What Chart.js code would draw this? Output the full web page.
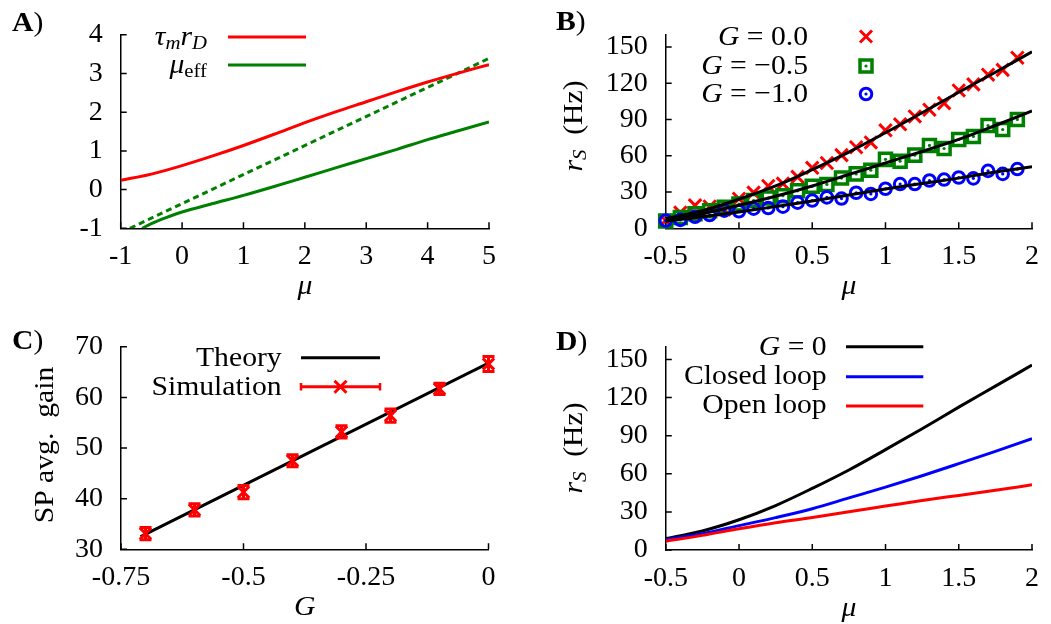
<!DOCTYPE html>
<html lang="en">
<head>
  <meta charset="UTF-8" />
  <title>Firing-rate response panels</title>
  <script src="https://cdn.jsdelivr.net/npm/chart.js"></script>
  <style>
    body { margin: 0; background: #fff; }
    #fig { position: relative; width: 1051px; height: 624px; }
    canvas { position: absolute; }
  </style>
</head>
<body>
  <div id="fig">
    <canvas id="chartA" width="525" height="312" style="left:0;top:0"></canvas>
    <canvas id="chartB" width="526" height="312" style="left:525px;top:0"></canvas>
    <canvas id="chartC" width="525" height="312" style="left:0;top:312px"></canvas>
    <canvas id="chartD" width="526" height="312" style="left:525px;top:312px"></canvas>
  </div>

  <script>
    const SERIF = '"Liberation Serif", "Times New Roman", serif';
    const FS = 28;
    const STRETCH = 1.06;
    const RED = '#ff0000', GREEN = '#008000', BLUE = '#0000ff', BLACK = '#000000';

    // A) tau_m r_D and mu_eff against mu
    const muA = [-1, -0.5, 0, 0.5, 1, 1.5, 2, 2.5, 3, 3.5, 4, 4.5, 5];
    const tauRD = [0.24, 0.40, 0.62, 0.87, 1.14, 1.43, 1.73, 2.01, 2.27, 2.53, 2.78, 3.01, 3.23];
    const muEffX = [-0.65, -0.5, -0.25, 0, 0.5, 1, 1.5, 2, 2.5, 3, 3.5, 4, 4.5, 5];
    const muEff = [-1, -0.88, -0.72, -0.58, -0.36, -0.15, 0.08, 0.32, 0.56, 0.80, 1.04, 1.29, 1.52, 1.75];
    const muLinX = [-0.85, 5];
    const muLin = [-1, 3.39];
    const xTicksA = [-1, 0, 1, 2, 3, 4, 5];
    const yTicksA = [-1, 0, 1, 2, 3, 4];

    // B) simulated rates for three gains, with theory curves
    const muSim = [-0.5, -0.4, -0.3, -0.2, -0.1, 0, 0.1, 0.2, 0.3, 0.4, 0.5, 0.6, 0.7,
                   0.8, 0.9, 1.0, 1.1, 1.2, 1.3, 1.4, 1.5, 1.6, 1.7, 1.8, 1.9];
    const simG0 = [6.5, 13, 19, 18, 15.5, 24.5, 29.5, 35, 37, 42.5, 50, 54, 60.5,
                   67, 71, 81, 86, 92.5, 98, 103.5, 114, 119, 127, 131, 141];
    const simG05 = [6, 9, 12, 14.5, 17.5, 20, 23, 25, 27, 31, 34.7, 36.3, 41.5,
                    45, 48, 57, 55.5, 60.5, 68.5, 66, 73.5, 76, 85, 81.7, 90];
    const simG10 = [6.4, 7, 9.5, 11, 14.6, 14.1, 16.2, 16.8, 17.9, 21.2, 23, 25.6, 24.6,
                    29.4, 28.4, 32.7, 36.6, 36.6, 39.5, 40.3, 42, 41.3, 47.5, 45, 49];
    const muTh = [-0.5, -0.25, 0, 0.25, 0.5, 0.75, 1, 1.25, 1.5, 1.75, 2];
    const thG0 = [8, 14.5, 24, 35, 48.5, 63, 79, 95.5, 112.5, 129, 146];
    const thG05 = [6, 12, 19, 26.5, 35, 44.5, 54, 63.5, 73.5, 85, 97];
    const thG10 = [6, 9.5, 13.5, 18, 22.5, 27.5, 32.5, 37, 41.5, 46.5, 51];
    const xTicksMu = [-0.5, 0, 0.5, 1, 1.5, 2];
    const yTicksRate = [0, 30, 60, 90, 120, 150];

    // C) average gain vs G
    const gSim = [-0.7, -0.6, -0.5, -0.4, -0.3, -0.2, -0.1, 0];
    const gainSim = [33.1, 37.8, 41.3, 47.5, 53.2, 56.4, 61.7, 66.6];
    const gainErr = [1.2, 1.2, 1.3, 1.2, 1.2, 1.3, 1.1, 1.5];
    const gTheory = [-0.71, 0];
    const gainTheory = [32.5, 66.8];
    const xTicksC = [-0.75, -0.5, -0.25, 0];
    const yTicksC = [30, 40, 50, 60, 70];

    // D) rate curves: G = 0, closed loop, open loop
    const muD = [-0.5, -0.25, 0, 0.25, 0.5, 0.75, 1, 1.25, 1.5, 1.75, 2];
    const rateG0 = [9, 15, 23.8, 35, 48.5, 63, 79, 95.5, 112.5, 129, 145.6];
    const rateClosed = [8.2, 12.8, 19.2, 25.5, 32.5, 41, 49.5, 58.5, 68, 77.7, 87.7];
    const rateOpen = [6.9, 11.5, 16.7, 21.5, 25.6, 30.2, 34.6, 39, 43, 47, 51.3];

    Chart.defaults.font.family = SERIF;
    Chart.defaults.font.size = FS;
    Chart.defaults.color = '#000';

    function pts(xs, ys) {
      return xs.map((x, i) => ({ x: x, y: ys[i] }));
    }

    function curve(xs, ys, color, extra) {
      return Object.assign({
        data: pts(xs, ys), showLine: true, borderColor: color, borderWidth: 3,
        pointRadius: 0, fill: false, cubicInterpolationMode: 'monotone'
      }, extra || {});
    }

    function markers(xs, ys, color, style, radius, width, order) {
      return {
        data: pts(xs, ys), showLine: false, pointStyle: style, pointRadius: radius,
        borderColor: color, borderWidth: width, backgroundColor: 'rgba(0,0,0,0)',
        clip: false, order: order
      };
    }

    function dots(xs, ys, color, order) {
      return {
        data: pts(xs, ys), showLine: false, pointStyle: 'circle', pointRadius: 1.6,
        borderWidth: 0, backgroundColor: color, clip: false, order: order
      };
    }

    // mixed-style text: [text, style], style letters i = italic, b = bold, s = subscript
    function setFont(ctx, st) {
      const size = st.includes('s') ? FS * 0.7 : FS;
      ctx.font = (st.includes('i') ? 'italic ' : '') + (st.includes('b') ? 'bold ' : '') + size + 'px ' + SERIF;
    }

    function drawRich(ctx, parts, x, y, align, rotate) {
      ctx.save();
      ctx.translate(x, y);
      if (rotate) ctx.rotate(-Math.PI / 2);
      ctx.scale(STRETCH, 1);
      let w = 0;
      parts.forEach(p => { setFont(ctx, p[1]); w += ctx.measureText(p[0]).width; });
      let cx = align === 'right' ? -w : (align === 'center' ? -w / 2 : 0);
      ctx.fillStyle = '#000';
      ctx.textAlign = 'left';
      ctx.textBaseline = 'alphabetic';
      parts.forEach(p => {
        setFont(ctx, p[1]);
        ctx.fillText(p[0], cx, p[1].includes('s') ? 4 : 0);
        cx += ctx.measureText(p[0]).width;
      });
      ctx.restore();
    }

    function keyLine(ctx, x1, x2, y, color) {
      ctx.save();
      ctx.strokeStyle = color;
      ctx.lineWidth = 3;
      ctx.beginPath();
      ctx.moveTo(x1, y);
      ctx.lineTo(x2, y);
      ctx.stroke();
      ctx.restore();
    }

    function drawMarker(ctx, kind, x, y, color) {
      ctx.save();
      ctx.strokeStyle = color;
      ctx.fillStyle = color;
      ctx.beginPath();
      if (kind === 'cross') {
        ctx.lineWidth = 3;
        ctx.moveTo(x - 6, y - 6); ctx.lineTo(x + 6, y + 6);
        ctx.moveTo(x - 6, y + 6); ctx.lineTo(x + 6, y - 6);
        ctx.stroke();
      } else {
        ctx.lineWidth = kind === 'square' ? 3.5 : 3;
        if (kind === 'square') ctx.rect(x - 6, y - 6, 12, 12);
        else ctx.arc(x, y, 5.8, 0, Math.PI * 2);
        ctx.stroke();
        ctx.beginPath();
        ctx.arc(x, y, 1.6, 0, Math.PI * 2);
        ctx.fill();
      }
      ctx.restore();
    }

    // short tick marks pointing into the plot
    const innerTicks = {
      id: 'innerTicks',
      beforeDatasetsDraw(chart) {
        const { ctx, chartArea: a, scales: { x, y } } = chart;
        ctx.save();
        ctx.strokeStyle = '#000';
        ctx.lineWidth = 1.5;
        ctx.beginPath();
        x.ticks.forEach(t => {
          const px = x.getPixelForValue(t.value);
          ctx.moveTo(px, a.bottom); ctx.lineTo(px, a.bottom - 6);
        });
        y.ticks.forEach(t => {
          const py = y.getPixelForValue(t.value);
          ctx.moveTo(a.left, py); ctx.lineTo(a.left + 6, py);
        });
        ctx.stroke();
        ctx.restore();
      }
    };

    function makePanel(id, cfg) {
      const canvas = document.getElementById(id);
      const W = canvas.width, H = canvas.height;
      const [L, T, R, B] = cfg.area;
      const axis = (range, ticks, pad, fit) => ({
        type: 'linear', min: range[0], max: range[1],
        afterFit: fit,
        afterBuildTicks: s => { s.ticks = ticks.map(v => ({ value: v })); },
        ticks: { padding: pad, color: '#000', autoSkip: false, maxRotation: 0,
                 font: { family: SERIF, size: FS }, callback: v => String(v) },
        grid: { drawOnChartArea: false, drawTicks: false },
        border: { color: '#000', width: 1.5 }
      });
      return new Chart(canvas, {
        type: 'scatter',
        data: { datasets: cfg.datasets },
        options: {
          responsive: false,
          animation: false,
          events: [],
          layout: { padding: { left: 0, top: T, right: W - R, bottom: 0 } },
          plugins: { legend: { display: false }, tooltip: { enabled: false } },
          scales: {
            x: axis(cfg.xRange, cfg.xTicks, 12, s => { s.height = H - B; }),
            y: axis(cfg.yRange, cfg.yTicks, 18, s => { s.width = L; })
          }
        },
        plugins: [innerTicks, { id: 'decor', afterDraw: c => cfg.decorate(c.ctx, c.chartArea) }]
          .concat(cfg.plugins || [])
      });
    }

    // A
    makePanel('chartA', {
      area: [120.7, 21.7, 489, 228.3],
      xRange: [-1, 5], yRange: [-1, 4], xTicks: xTicksA, yTicks: yTicksA,
      datasets: [
        curve(muA, tauRD, RED),
        curve(muEffX, muEff, GREEN),
        curve(muLinX, muLin, GREEN, { borderDash: [6, 4], cubicInterpolationMode: 'default' })
      ],
      decorate(ctx, a) {
        drawRich(ctx, [['A', 'b'], [')', '']], 12, 31, 'left');
        drawRich(ctx, [['μ', 'i']], (a.left + a.right) / 2, a.bottom + 66, 'center');
        drawRich(ctx, [['τ', 'i'], ['m', 'is'], ['r', 'i'], ['D', 'is']], 207, 45, 'right');
        keyLine(ctx, 228, 306, 37, RED);
        drawRich(ctx, [['μ', 'i'], ['eff', 's']], 207, 73, 'right');
        keyLine(ctx, 228, 306, 65, GREEN);
      }
    });

    // B
    makePanel('chartB', {
      area: [140.7, 21.3, 510.7, 228.3],
      xRange: [-0.5, 2], yRange: [0, 160], xTicks: xTicksMu, yTicks: yTicksRate,
      datasets: [
        curve(muTh, thG0, BLACK, { order: 0 }),
        curve(muTh, thG05, BLACK, { order: 0 }),
        curve(muTh, thG10, BLACK, { order: 0 }),
        dots(muSim, simG10, BLUE, 1),
        markers(muSim, simG10, BLUE, 'circle', 5.8, 3, 2),
        dots(muSim, simG05, GREEN, 3),
        markers(muSim, simG05, GREEN, 'rect', 8.5, 3.5, 4),
        markers(muSim, simG0, RED, 'crossRot', 8.8, 3, 5)
      ],
      decorate(ctx, a) {
        drawRich(ctx, [['B', 'b'], [')', '']], 31, 30, 'left');
        drawRich(ctx, [['μ', 'i']], (a.left + a.right) / 2, a.bottom + 66, 'center');
        drawRich(ctx, [['r', 'i'], ['S', 'is'], ['  (Hz)', '']], 56.7, 126, 'center', true);
        drawRich(ctx, [['G', 'i'], [' = 0.0', '']], 283, 44.5, 'right');
        drawRich(ctx, [['G', 'i'], [' = −0.5', '']], 283, 74, 'right');
        drawRich(ctx, [['G', 'i'], [' = −1.0', '']], 283, 102, 'right');
        drawMarker(ctx, 'cross', 341, 36.5, RED);
        drawMarker(ctx, 'square', 341, 66, GREEN);
        drawMarker(ctx, 'circle', 341, 94, BLUE);
      }
    });

    // vertical error bars with end caps for the simulated gains
    const errorBars = {
      id: 'errorBars',
      afterDatasetsDraw(chart) {
        const { ctx, scales: { x, y } } = chart;
        ctx.save();
        ctx.strokeStyle = RED;
        ctx.lineWidth = 3;
        gSim.forEach((g, i) => {
          const px = x.getPixelForValue(g);
          const lo = y.getPixelForValue(gainSim[i] - gainErr[i]);
          const hi = y.getPixelForValue(gainSim[i] + gainErr[i]);
          ctx.beginPath();
          ctx.moveTo(px, lo); ctx.lineTo(px, hi);
          ctx.moveTo(px - 6, lo); ctx.lineTo(px + 6, lo);
          ctx.moveTo(px - 6, hi); ctx.lineTo(px + 6, hi);
          ctx.stroke();
        });
        ctx.restore();
      }
    };

    // C
    makePanel('chartC', {
      area: [121, 31.3, 488.5, 237.3],
      xRange: [-0.75, 0], yRange: [30, 70], xTicks: xTicksC, yTicks: yTicksC,
      datasets: [
        markers(gSim, gainSim, RED, 'crossRot', 8, 3, 0),
        curve(gTheory, gainTheory, BLACK, { order: 1, cubicInterpolationMode: 'default' })
      ],
      plugins: [errorBars],
      decorate(ctx, a) {
        drawRich(ctx, [['C', 'b'], [')', '']], 12, 36.5, 'left');
        drawRich(ctx, [['G', 'i']], (a.left + a.right) / 2, a.bottom + 66, 'center');
        drawRich(ctx, [['SP avg.  gain', '']], 53, 133, 'center', true);
        drawRich(ctx, [['Theory', '']], 281.7, 53.5, 'right');
        keyLine(ctx, 301, 380, 45.7, BLACK);
        drawRich(ctx, [['Simulation', '']], 281.7, 82.5, 'right');
        keyLine(ctx, 301, 380, 74.7, RED);
        ctx.save();
        ctx.strokeStyle = RED;
        ctx.lineWidth = 2.5;
        ctx.beginPath();
        ctx.moveTo(301, 71); ctx.lineTo(301, 78.5);
        ctx.moveTo(380, 71); ctx.lineTo(380, 78.5);
        ctx.stroke();
        ctx.restore();
        drawMarker(ctx, 'cross', 340.5, 74.7, RED);
      }
    });

    // D
    makePanel('chartD', {
      area: [140.8, 30.3, 508.3, 238],
      xRange: [-0.5, 2], yRange: [0, 160], xTicks: xTicksMu, yTicks: yTicksRate,
      datasets: [
        curve(muD, rateOpen, RED, { order: 0 }),
        curve(muD, rateClosed, BLUE, { order: 1 }),
        curve(muD, rateG0, BLACK, { order: 2 })
      ],
      decorate(ctx, a) {
        drawRich(ctx, [['D', 'b'], [')', '']], 31, 38, 'left');
        drawRich(ctx, [['μ', 'i']], (a.left + a.right) / 2, a.bottom + 66, 'center');
        drawRich(ctx, [['r', 'i'], ['S', 'is'], ['  (Hz)', '']], 56.7, 136, 'center', true);
        drawRich(ctx, [['G', 'i'], [' = 0', '']], 301.7, 43, 'right');
        keyLine(ctx, 321, 398.3, 34.7, BLACK);
        drawRich(ctx, [['Closed loop', '']], 301.7, 71.5, 'right');
        keyLine(ctx, 321, 398.3, 64.7, BLUE);
        drawRich(ctx, [['Open loop', '']], 301.7, 100.7, 'right');
        keyLine(ctx, 321, 398.3, 94, RED);
      }
    });
  </script>
</body>
</html>
